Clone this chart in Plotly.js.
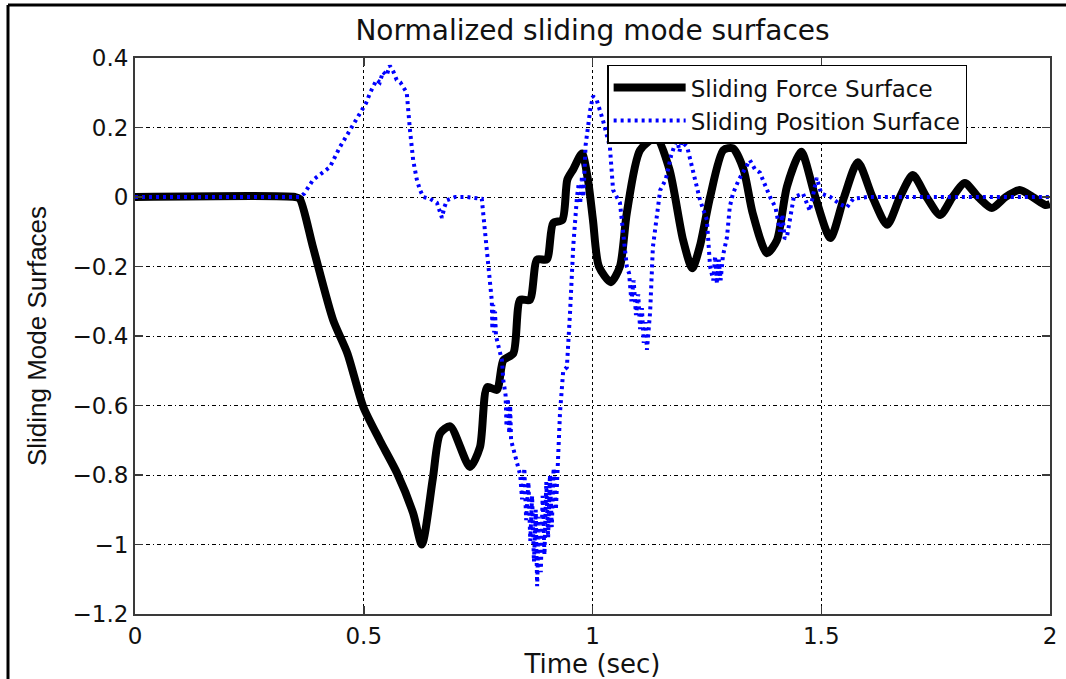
<!DOCTYPE html>
<html>
<head>
<meta charset="utf-8">
<script src="https://cdn.plot.ly/plotly-3.0.1.min.js"></script>
<style>
html, body { margin: 0; padding: 0; background: #fff; }
#plot { width: 1066px; height: 679px; }
</style>
</head>
<body>
<div id="plot"></div>
<script>
// Sliding Force Surface (black, solid)
var forceT = [0, 0.35, 0.36, 0.389, 0.433, 0.464, 0.499, 0.535, 0.573, 0.608,
  0.627, 0.651, 0.667, 0.689, 0.732, 0.754, 0.770, 0.791, 0.805, 0.827,
  0.842, 0.863, 0.879, 0.900, 0.914, 0.934, 0.945, 0.958, 0.977, 0.990,
  1.001, 1.014, 1.040, 1.060, 1.075, 1.104, 1.139, 1.168, 1.198, 1.218,
  1.235, 1.257, 1.286, 1.307, 1.330, 1.350, 1.381, 1.403, 1.425, 1.456,
  1.487, 1.520, 1.550, 1.580, 1.612, 1.644, 1.672, 1.700, 1.730, 1.760,
  1.787, 1.814, 1.843, 1.873, 1.903, 1.934, 1.962, 1.990, 2.0];
var forceV = [0, 0, -0.005, -0.144, -0.354, -0.449, -0.604, -0.70, -0.795, -0.91,
  -1.0, -0.81, -0.68, -0.66, -0.777, -0.72, -0.547, -0.555, -0.47, -0.45,
  -0.296, -0.296, -0.18, -0.18, -0.075, -0.066, 0.05, 0.08, 0.125, 0.05,
  -0.066, -0.2, -0.245, -0.2, -0.046, 0.135, 0.17, 0.08, -0.124, -0.205,
  -0.14, 0.0, 0.135, 0.14, 0.08, -0.046, -0.162, -0.125, 0.03, 0.13,
  0.0, -0.118, 0.0, 0.10, 0.0, -0.08, 0.0, 0.063, 0.0, -0.052,
  0.0, 0.04, 0.0, -0.032, 0.0, 0.02, 0.0, -0.023, -0.02];

// Sliding Position Surface (blue, dotted)
var posT = [0, 0.36, 0.37, 0.389, 0.41, 0.426, 0.448, 0.47, 0.48, 0.492,
  0.505, 0.514, 0.528, 0.535, 0.542, 0.55, 0.557, 0.565, 0.572, 0.58,
  0.594, 0.601, 0.608, 0.616, 0.623, 0.63, 0.645, 0.66, 0.667, 0.671,
  0.676, 0.682, 0.70, 0.725, 0.758, 0.765, 0.772, 0.776, 0.780, 0.781,
  0.783, 0.785, 0.787, 0.789, 0.795, 0.802, 0.805, 0.81, 0.812, 0.815,
  0.818, 0.82, 0.822, 0.83, 0.842, 0.846, 0.851, 0.855, 0.86, 0.864,
  0.868, 0.872, 0.876, 0.879, 0.883, 0.887, 0.891, 0.895, 0.899, 0.903,
  0.907, 0.911, 0.915, 0.920, 0.925, 0.929, 0.936, 0.944, 0.951, 0.958,
  0.966, 0.970, 0.973, 0.977, 0.980, 0.985, 0.995, 1.001, 1.009, 1.023,
  1.038, 1.045, 1.06, 1.067, 1.075, 1.08, 1.085, 1.09, 1.095, 1.1,
  1.104, 1.108, 1.112, 1.116, 1.119, 1.126, 1.132, 1.148, 1.16, 1.172,
  1.185, 1.19, 1.195, 1.207, 1.22, 1.235, 1.25, 1.257, 1.264, 1.268,
  1.272, 1.276, 1.28, 1.285, 1.294, 1.30, 1.307, 1.32, 1.344, 1.355,
  1.366, 1.388, 1.40, 1.41, 1.415, 1.42, 1.425, 1.44, 1.46, 1.475,
  1.49, 1.50, 1.52, 1.54, 1.556, 1.57, 1.6, 2.0];
var posV = [0, 0, 0.01, 0.049, 0.07, 0.086, 0.144, 0.193, 0.21, 0.242,
  0.27, 0.30, 0.337, 0.33, 0.36, 0.35, 0.378, 0.36, 0.337, 0.33,
  0.30, 0.193, 0.106, 0.05, 0.02, 0, -0.005, -0.017, -0.04, -0.06,
  -0.03, -0.009, 0, 0, -0.005, -0.095, -0.19, -0.26, -0.30, -0.38,
  -0.31, -0.39, -0.33, -0.40, -0.43, -0.47, -0.527, -0.57, -0.66, -0.58,
  -0.68, -0.60, -0.70, -0.74, -0.80, -0.87, -0.78, -0.93, -0.82, -0.99,
  -0.86, -1.05, -0.90, -1.12, -0.92, -1.08, -0.86, -1.03, -0.82, -0.98,
  -0.80, -0.95, -0.78, -0.90, -0.75, -0.62, -0.50, -0.49, -0.33, -0.14,
  0, 0.04, -0.02, 0.06, 0.0, 0.15, 0.25, 0.29, 0.28, 0.22,
  0.144, 0.02, -0.017, -0.095, -0.2, -0.22, -0.30, -0.24, -0.34, -0.28,
  -0.38, -0.32, -0.42, -0.36, -0.44, -0.33, -0.144, 0.02, 0.05, 0.12,
  0.17, 0.13, 0.16, 0.144, 0.07, -0.009, -0.066, -0.2, -0.24, -0.17,
  -0.25, -0.18, -0.24, -0.17, -0.115, -0.029, 0.01, 0.05, 0.106, 0.08,
  0.07, 0, -0.03, -0.1, -0.05, -0.12, -0.115, 0, 0.01, -0.04,
  0.055, 0.01, 0, -0.02, -0.03, -0.005, 0, 0];

var xTicks = [0, 0.5, 1, 1.5, 2];
var xTickText = ['0', '0.5', '1', '1.5', '2'];
var yTicks = [-1.2, -1, -0.8, -0.6, -0.4, -0.2, 0, 0.2, 0.4];
var yTickText = ['\u22121.2', '\u22121', '\u22120.8', '\u22120.6', '\u22120.4', '\u22120.2', '0', '0.2', '0.4'];

var traces = [
  {x: forceT, y: forceV, type: 'scatter', mode: 'lines', name: 'Sliding Force Surface',
   line: {color: '#000000', width: 8, shape: 'spline', smoothing: 0.7}},
  {x: posT, y: posV, type: 'scatter', mode: 'lines', name: 'Sliding Position Surface',
   line: {color: '#0000ff', width: 4, dash: '3px,4px'}}
];

var sansWide = 'DejaVu Sans, Liberation Sans, Arial, sans-serif';
var axisCommon = {
  showline: true, linecolor: '#3a3a3a', linewidth: 2, mirror: 'ticks',
  ticks: 'inside', ticklen: 8, tickcolor: '#3a3a3a', tickwidth: 1.5,
  showgrid: true, gridcolor: '#000000', gridwidth: 1,
  zeroline: false, tickfont: {family: sansWide, size: 23, color: '#111'}
};

var layout = {
  width: 1066, height: 679,
  margin: {l: 135, r: 16, t: 58, b: 65},
  paper_bgcolor: '#ffffff', plot_bgcolor: '#ffffff',
  title: {text: 'Normalized sliding mode surfaces', x: 0.5, xref: 'paper', xanchor: 'center',
          y: 0.955, yref: 'container', yanchor: 'middle',
          font: {family: sansWide, size: 28, color: '#111'}},
  xaxis: Object.assign({}, axisCommon, {
    range: [0, 2], tickvals: xTicks, ticktext: xTickText, griddash: 'dot',
    title: {text: 'Time (sec)', standoff: 0, font: {family: sansWide, size: 26, color: '#111'}}
  }),
  yaxis: Object.assign({}, axisCommon, {
    range: [-1.2, 0.4], tickvals: yTicks, ticktext: yTickText, griddash: '4px,3px,1px,3px',
    title: {text: 'Sliding Mode Surfaces', standoff: 18,
            font: {family: 'Liberation Sans, Arial, sans-serif', size: 26, color: '#111'}}
  }),
  showlegend: true,
  legend: {x: 0.516, y: 0.988, xanchor: 'left', yanchor: 'top',
           bgcolor: '#ffffff', bordercolor: '#000000', borderwidth: 1.5,
           font: {family: sansWide, size: 23, color: '#111'},
           itemwidth: 72, tracegroupgap: 0},
  shapes: [
    {type: 'line', xref: 'paper', yref: 'paper', x0: -0.1388, x1: -0.1388, y0: -0.2, y1: 1.0953,
     line: {color: '#000', width: 3}},
    {type: 'line', xref: 'paper', yref: 'paper', x0: -0.1388, x1: 1.05, y0: 1.0953, y1: 1.0953,
     line: {color: '#000', width: 3}}
  ]
};

Plotly.newPlot('plot', traces, layout, {staticPlot: true, displayModeBar: false});
</script>
</body>
</html>
